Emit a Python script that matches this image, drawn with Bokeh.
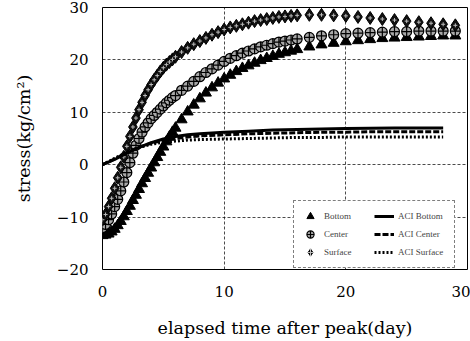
from bokeh.plotting import figure
from bokeh.models import Legend, LegendItem, FixedTicker, Range1d
from bokeh.embed import file_html
from bokeh.resources import INLINE

# elapsed time after peak (day) for the measured series
t = [0, 0.25, 0.5, 0.75, 1, 1.25, 1.5, 1.75, 2, 2.25, 2.5, 2.75, 3, 3.25, 3.5, 3.75,
     4, 4.25, 4.5, 4.75, 5, 5.25, 5.5, 5.75,
     6, 6.5, 7, 7.5, 8, 8.5, 9, 9.5, 10, 10.5, 11, 11.5, 12, 12.5, 13, 13.5, 14, 14.5, 15, 15.5,
     16, 17, 18, 19, 20, 21, 22, 23, 24, 25, 26, 27, 28, 29]

bottom = [-13.5, -13.4, -13.2, -12.8, -12.3, -11.6, -10.8, -9.9, -8.9, -7.9, -6.8, -5.8,
          -4.7, -3.6, -2.6, -1.6, -0.6, 0.4, 1.4, 2.4, 3.4, 4.4, 5.3, 6.2,
          7.0, 8.6, 10.1, 11.4, 12.6, 13.7, 14.7, 15.6, 16.4, 17.1, 17.8, 18.4, 18.9, 19.4,
          19.9, 20.3, 20.7, 21.1, 21.4, 21.7,
          22.0, 22.5, 22.9, 23.2, 23.5, 23.7, 23.9, 24.1, 24.2, 24.3, 24.4, 24.5, 24.6, 24.6]

center = [-12.0, -11.4, -10.5, -9.4, -8.0, -6.6, -5.0, -3.3, -1.5, 0.4, 2.2, 3.7,
          5.0, 6.2, 7.2, 8.0, 8.8, 9.4, 10.0, 10.6, 11.2, 11.8, 12.3, 12.8,
          13.2, 14.2, 15.0, 15.9, 16.8, 17.6, 18.3, 19.0, 19.7, 20.3, 20.8, 21.3, 21.7, 22.1,
          22.5, 22.8, 23.1, 23.4, 23.6, 23.8,
          24.0, 24.3, 24.6, 24.8, 25.0, 25.1, 25.2, 25.3, 25.4, 25.4, 25.5, 25.5, 25.5, 25.5]

surface = [-10.5, -9.5, -8.0, -6.4, -4.5, -2.5, -0.5, 1.5, 3.5, 5.4, 7.2, 8.9,
           10.5, 11.9, 13.2, 14.3, 15.3, 16.2, 17.0, 17.8, 18.5, 19.1, 19.6, 20.1,
           20.6, 21.5, 22.3, 23.0, 23.6, 24.2, 24.8, 25.3, 25.8, 26.2, 26.5, 26.8, 27.1, 27.4,
           27.6, 27.8, 28.0, 28.2, 28.3, 28.4,
           28.5, 28.6, 28.6, 28.5, 28.4, 28.2, 28.0, 27.8, 27.6, 27.4, 27.2, 27.0, 26.8, 26.6]

# ACI model curves
t_aci = [0, 1, 2, 3, 4, 5, 6, 7, 8, 10, 12, 14, 16, 18, 20, 22, 24, 26, 28]
aci_bottom = [0, 1.0, 2.2, 3.3, 4.2, 4.9, 5.4, 5.7, 5.9, 6.2, 6.4, 6.6, 6.7, 6.8, 6.9, 6.95, 7.0, 7.0, 7.0]
aci_center = [0, 1.1, 2.3, 3.3, 4.1, 4.6, 5.0, 5.3, 5.5, 5.7, 5.9, 6.0, 6.1, 6.2, 6.2, 6.3, 6.3, 6.3, 6.3]
aci_surface = [0, 1.2, 2.4, 3.3, 3.9, 4.3, 4.5, 4.7, 4.8, 4.9, 5.0, 5.1, 5.2, 5.2, 5.3, 5.3, 5.3, 5.3, 5.3]

x_ticks = [0, 10, 20, 30]
y_ticks = [-20, -10, 0, 10, 20, 30]

FONT = "DejaVu Serif"

p = figure(width=470, height=341, output_backend="svg", toolbar_location=None,
           x_range=Range1d(0, 30), y_range=Range1d(-20, 30),
           min_border_left=102, min_border_right=3, min_border_top=7, min_border_bottom=72)
p.background_fill_color = "white"
p.outline_line_color = "black"
p.outline_line_width = 1

for ax in (p.xaxis[0], p.yaxis[0]):
    ax.axis_line_color = None
    ax.major_tick_line_color = None
    ax.minor_tick_line_color = None
    ax.major_label_text_font = FONT
    ax.major_label_text_font_size = "15px"
    ax.major_label_text_color = "black"
    ax.axis_label_text_font = FONT
    ax.axis_label_text_font_style = "normal"
    ax.axis_label_text_font_size = "17.5px"
    ax.axis_label_text_color = "black"

p.xaxis.ticker = FixedTicker(ticks=x_ticks)
p.yaxis.ticker = FixedTicker(ticks=y_ticks)
p.xaxis.major_label_standoff = 10
p.yaxis.major_label_standoff = 8
p.xaxis.axis_label = "elapsed time after peak(day)"
p.yaxis.axis_label = "stress(kg/cm²)"
p.xaxis.axis_label_standoff = 18
p.yaxis.axis_label_standoff = 20

for g in (p.xgrid[0], p.ygrid[0]):
    g.grid_line_color = "black"
    g.grid_line_width = 1
    g.grid_line_dash = "3 2"
    g.grid_line_alpha = 0.7

# measured series
r_bot = p.scatter(t, bottom, marker="triangle", size=11, fill_color="black", line_color="black")
r_cen = p.scatter(t, center, marker="circle_cross", size=10, fill_color="#a8a8a8",
                  line_color="black", line_width=1.2)
r_sur = p.scatter(t, surface, marker="diamond", size=13, fill_color="#111111", line_color="black")
r_sur2 = p.scatter(t, surface, marker="cross", size=4, line_color="#bbbbbb", line_width=1)

# ACI curves
r_ab = p.line(t_aci, aci_bottom, line_color="black", line_width=3)
r_ac = p.line(t_aci, aci_center, line_color="black", line_width=3, line_dash="6 2")
r_as = p.line(t_aci, aci_surface, line_color="black", line_width=3, line_dash="2 2")

legend = Legend(items=[
    LegendItem(label="Bottom", renderers=[r_bot]),
    LegendItem(label="Center", renderers=[r_cen]),
    LegendItem(label="Surface", renderers=[r_sur, r_sur2]),
    LegendItem(label="ACI Bottom", renderers=[r_ab]),
    LegendItem(label="ACI Center", renderers=[r_ac]),
    LegendItem(label="ACI Surface", renderers=[r_as]),
], location=(191, 1), orientation="vertical", nrows=3,
    label_text_font="Liberation Serif", label_text_font_size="9px",
    glyph_width=20, glyph_height=18, label_standoff=4, label_width=50, spacing=0,
    padding=6, margin=0, border_line_color="black", border_line_width=1,
    border_line_dash="3 2", background_fill_color="white", background_fill_alpha=1)
p.add_layout(legend, "center")

open("out.html", "w").write(file_html(p, INLINE))
